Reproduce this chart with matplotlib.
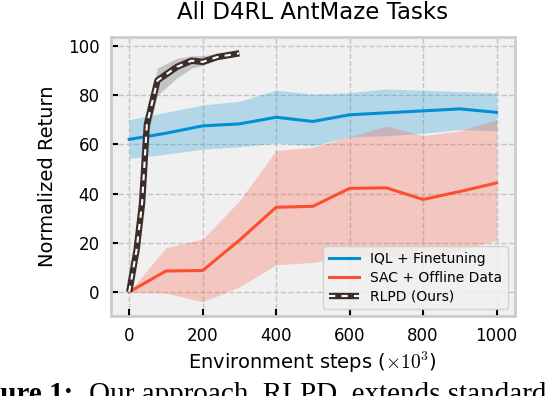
"""All D4RL AntMaze tasks: normalized return vs environment steps."""
import matplotlib
matplotlib.use("Agg")
import matplotlib.pyplot as plt

plt.rcParams["font.family"] = ["DejaVu Sans"]
plt.rcParams["mathtext.fontset"] = "cm"

# ---- data ----
steps = [0, 100, 200, 300, 400, 500, 600, 700, 800, 900, 1000]

iql_mean = [62, 64.5, 67.5, 68.3, 71, 69.3, 72, 72.8, 73.6, 74.4, 73]
iql_lo   = [54.3, 56, 58, 59, 60.5, 59.5, 63, 63.5, 64.5, 66, 65.5]
iql_hi   = [70, 73, 76, 77.5, 82, 80.5, 81, 82.5, 82, 81.5, 81]

sac_mean = [0, 8.5, 8.7, 21, 34.4, 34.8, 42.1, 42.3, 37.6, 40.8, 44.3]
sac_lo   = [0, -0.5, -4, 2, 11, 12, 14, 15, 13, 17, 21]
sac_hi   = [0, 18, 21.5, 37, 57.5, 58.8, 63, 67.5, 63.5, 65.5, 70]

rlpd_x    = [0, 20, 35, 48, 77, 130, 170, 200, 240, 300]
rlpd_mean = [0, 17, 36, 68, 86, 91.5, 94, 93.5, 95.5, 97]
rlpd_lo   = [0, 15, 33, 62, 80, 87, 91, 92, 94.5, 96.5]
rlpd_hi   = [0, 19, 39, 73, 91, 95, 96, 96, 97, 97.5]

IQL_C, SAC_C, RLPD_C = "#008fd5", "#fc4f30", "#3b2e2a"

fig = plt.figure(figsize=(5.46, 3.96), dpi=100)
ax = fig.add_axes([0.203, 0.202, 0.740, 0.705])
ax.set_facecolor("#f0f0f0")
fig.patch.set_facecolor("white")

ax.fill_between(steps, iql_lo, iql_hi, color=IQL_C, alpha=0.25, lw=0)
l_iql, = ax.plot(steps, iql_mean, color=IQL_C, lw=2.2)
ax.fill_between(steps, sac_lo, sac_hi, color=SAC_C, alpha=0.25, lw=0)
l_sac, = ax.plot(steps, sac_mean, color=SAC_C, lw=2.2)
ax.fill_between(rlpd_x, rlpd_lo, rlpd_hi, color="gray", alpha=0.4, lw=0)
l_rd, = ax.plot(rlpd_x, rlpd_mean, color=RLPD_C, lw=4.6, solid_capstyle="butt")
l_rw, = ax.plot(rlpd_x, rlpd_mean, color="white", lw=1.5, dashes=(3, 3))

ax.set_xlim(-50, 1050)
ax.set_ylim(-9.8, 103.7)
ax.set_xticks([0, 200, 400, 600, 800, 1000])
ax.set_yticks([0, 20, 40, 60, 80, 100])
ax.tick_params(direction="in", length=5, width=1.5, color="black",
               labelsize=12, pad=8)
ax.grid(True, ls="--", color="#c4c4c4", lw=1)
ax.set_axisbelow(True)
for sp in ax.spines.values():
    sp.set_color("#cccccc")
    sp.set_linewidth(2)

ax.set_title("All D4RL AntMaze Tasks", fontsize=16.5, pad=13)
ax.set_ylabel("Normalized Return", fontsize=14, labelpad=8)
ax.set_xlabel(r"Environment steps ($\times 10^3$)", fontsize=14, labelpad=3)

leg = ax.legend([l_iql, l_sac, (l_rd, l_rw)],
                ["IQL + Finetuning", "SAC + Offline Data", "RLPD (Ours)"],
                loc="lower right", fontsize=10, handlelength=2.2,
                labelspacing=0.35, facecolor="#f0f0f0", edgecolor="#cccccc",
                framealpha=0.85)

# caption line cut off at the bottom of the image
fig.text(0.135, -0.016, "Figure 1:", ha="right", va="baseline", fontsize=21,
         fontweight="bold", family="Liberation Serif")
fig.text(0.163, -0.016, "Our approach, RLPD, extends standard", ha="left",
         va="baseline", fontsize=21, family="Liberation Serif")

fig.savefig("out.png", dpi=100, facecolor="white")
